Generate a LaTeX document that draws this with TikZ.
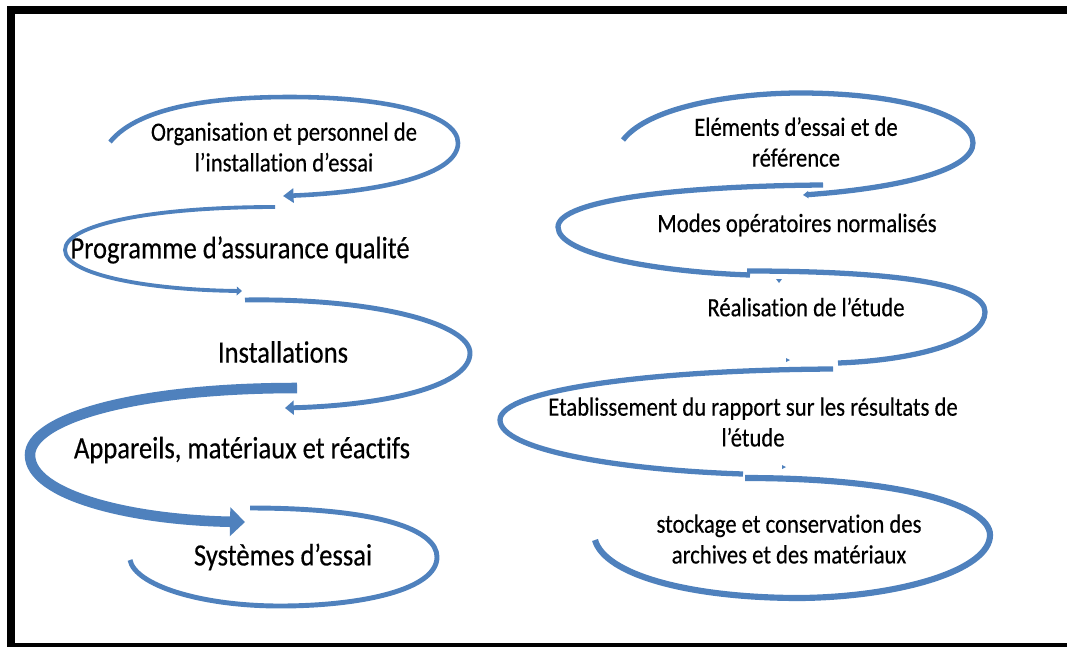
\documentclass[tikz,border=0pt]{standalone}
\usepackage{fontspec}
\setmainfont{Carlito}[FakeStretch=0.86, FakeBold=0.4, Ligatures=NoCommon]
\usetikzlibrary{arrows.meta}
\definecolor{swirlblue}{RGB}{79,129,189}
\tikzset{
  swirl/.style={draw=swirlblue, line width=#1, line cap=butt},
  swirl/.default=2.8pt,
  bigtext/.style={inner sep=0pt, font=\fontsize{17.6pt}{20pt}\selectfont},
  smalltext/.style={inner sep=0pt, align=center, font=\fontsize{15pt}{17.5pt}\selectfont},
}

\begin{document}
\begin{tikzpicture}[x=0.02cm,y=-0.02cm]
	\useasboundingbox (0,0) rectangle (1067,646);
	\clip (0,0) rectangle (1067,646);
	\draw[line width=4.5pt] (11,10) rectangle (1090,647);

	% left column
	\node[smalltext] (org) at (284,147) {Organisation et personnel de\\l’installation d’essai};
	\node[bigtext] (prog) at (240,250) {Programme d’assurance qualité};
	\node[bigtext] (inst) at (283,352) {Installations};
	\node[bigtext] (app) at (242,450) {Appareils, matériaux et réactifs};
	\node[bigtext] (sys) at (283,557) {Systèmes d’essai};

	\draw[swirl=2.6pt, -{Triangle[length=6pt,width=8pt]}] (110,142) .. controls (140,105) and (220,97) .. (290,97) .. controls (390,97) and (458,115) .. (458,143) .. controls (458,175) and (380,192) .. (283,196);
	\draw[swirl=2.2pt, -{Triangle[length=3pt,width=5pt]}] (275,207) .. controls (150,207) and (65,225) .. (65,250) .. controls (65,275) and (150,290) .. (242,291);
	\draw[swirl=2.8pt, -{Triangle[length=5pt,width=8pt]}] (245,300) .. controls (380,298) and (470,325) .. (470,353) .. controls (470,385) and (390,405) .. (285,408);
	\draw[swirl=6pt, -{Triangle[length=8.5pt,width=16pt]}] (297,388) .. controls (130,388) and (30,420) .. (30,455) .. controls (30,495) and (130,520) .. (245,522);
	\draw[swirl=2.8pt] (250,508) .. controls (380,508) and (437,530) .. (437,557) .. controls (437,590) and (360,606) .. (280,606) .. controls (200,606) and (135,585) .. (130,560);

	% right column
	\node[smalltext] (elem) at (796,142) {Eléments d’essai et de\\référence};
	\node[smalltext] (modes) at (797,225) {Modes opératoires normalisés};
	\node[smalltext] (real) at (806,307) {Réalisation de l’étude};
	\node[smalltext] (etab) at (753,422) {Etablissement du rapport sur les résultats de\\l’étude};
	\node[smalltext] (stock) at (789,539) {stockage et conservation des\\archives et des matériaux};

	\draw[swirl=3pt, -{Triangle[length=3pt,width=4pt]}] (623,140) .. controls (650,105) and (740,93) .. (800,93) .. controls (900,93) and (973,115) .. (973,143) .. controls (973,170) and (900,188) .. (803,195);
	\draw[swirl=3pt] (823,185) .. controls (680,186) and (558,200) .. (558,227) .. controls (558,255) and (660,272) .. (750,275);
	\draw[swirl=3pt] (747,271) .. controls (900,271) and (985,285) .. (985,312) .. controls (985,340) and (920,360) .. (838,363);
	\draw[swirl=3pt] (833,369) .. controls (650,370) and (500,390) .. (500,420) .. controls (500,450) and (620,470) .. (743,474);
	\draw[swirl=3.5pt] (745,478) .. controls (900,478) and (990,505) .. (990,535) .. controls (990,570) and (900,597) .. (800,598) .. controls (690,598) and (605,575) .. (595,540);

	\fill[swirlblue] (776,279) -- (782,279) -- (779,283) -- cycle;
	\fill[swirlblue] (786,358) -- (790,360) -- (786,362) -- cycle;
	\fill[swirlblue] (782,465) -- (786,467) -- (782,469) -- cycle;
\end{tikzpicture}
\end{document}
